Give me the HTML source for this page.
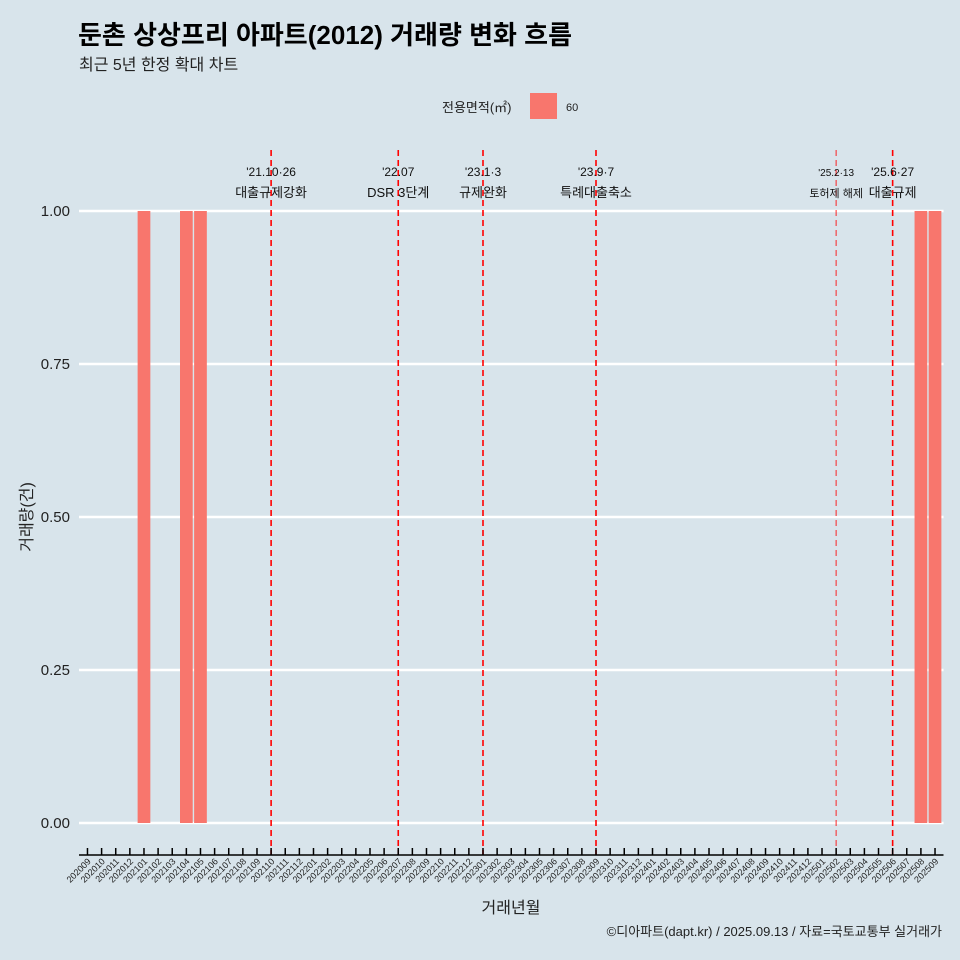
<!DOCTYPE html>
<html><head><meta charset="utf-8"><style>
body{margin:0;background:#d8e4eb;}
svg{display:block;font-family:"Liberation Sans","Noto Sans CJK KR",sans-serif;}
</style></head><body>
<svg id="c" width="960" height="960">
<rect width="960" height="960" fill="#d8e4eb"/>
<text x="78" y="44" font-size="26" font-weight="bold" fill="#000">둔촌 상상프리 아파트(2012) 거래량 변화 흐름</text>
<text x="79" y="70" font-size="16" fill="#222">최근 5년 한정 확대 차트</text>
<text x="442" y="112" font-size="13" fill="#222">전용면적(㎡)</text>
<rect x="530" y="93" width="27" height="26" fill="#f8766d"/>
<text x="566" y="111" font-size="11" fill="#222">60</text>
<text transform="translate(32,517) rotate(-90)" text-anchor="middle" font-size="16" fill="#222">거래량(건)</text>
<text x="511" y="913" text-anchor="middle" font-size="16" fill="#222">거래년월</text>
<text x="942" y="936" text-anchor="end" font-size="13" fill="#222">©디아파트(dapt.kr) / 2025.09.13 / 자료=국토교통부 실거래가</text>
<g id="grid"></g><g id="bars"></g><g id="events"></g><g id="xaxis"></g>
</svg>
<script>
const months=[];for(let y=2020,m=9;months.length<61;){months.push(''+y+String(m).padStart(2,'0'));m++;if(m>12){m=1;y++;}}
const barMonths=['202101','202104','202105','202508','202509'];
const barValues=[1,1,1,1,1];
const yTicks=[0,0.25,0.5,0.75,1];
const yTickLabels=['0.00','0.25','0.50','0.75','1.00'];
const eventMonths=['202110','202207','202301','202309','202502','202506'];
const eventDates=["'21.10·26","'22.07","'23.1·3","'23.9·7","'25.2·13","'25.6·27"];
const eventLabels=['대출규제강화','DSR 3단계','규제완화','특례대출축소','토허제 해제','대출규제'];
const NS='http://www.w3.org/2000/svg';
const x0=79,x1=943.5,step=(x1-x0)/(months.length-1+1.2);
const xs=m=>x0+(months.indexOf(m)+0.6)*step;
const ys=v=>823-v*612;
function mk(p,t,a){const e=document.createElementNS(NS,t);for(const k in a)e.setAttribute(k,a[k]);p.appendChild(e);return e;}
const G=document.getElementById('grid'),B=document.getElementById('bars'),E=document.getElementById('events'),X=document.getElementById('xaxis');
yTicks.forEach((v,i)=>{
 const l=mk(G,'line',{x1:x0,x2:x1,y1:ys(v),y2:ys(v),stroke:'#fff','stroke-width':2.5});
 
 
 const t=mk(G,'text',{x:70,y:ys(v)+5,'text-anchor':'end','font-size':15,fill:'#222'});t.textContent=yTickLabels[i];
 
 
});
barMonths.forEach((m,i)=>{
 const w=step*0.9;
 const r=mk(B,'rect',{x:xs(m)-w/2,y:ys(barValues[i]),width:w,height:ys(0)-ys(barValues[i]),fill:'#f8766d'});
 
 
});
eventMonths.forEach((m,i)=>{
 const x=xs(m);
 const l=mk(E,'line',{x1:x,x2:x,y1:150,y2:855,stroke:'#ff0000','stroke-width':i==4?1.2:1.6,'stroke-dasharray':'6,4',opacity:i==4?0.7:1});
 
 
 const fs=i==4?11:13;
 const t1=mk(E,'text',{x:x,y:176,'text-anchor':'middle','font-size':fs-1,fill:'#111'});t1.textContent=eventDates[i];
 
 
 const t2=mk(E,'text',{x:x,y:197,'text-anchor':'middle','font-size':fs,fill:'#111'});t2.textContent=eventLabels[i];
 
 
});
const ax=mk(X,'line',{x1:x0,x2:x1,y1:855,y2:855,stroke:'#000','stroke-width':1.5});


months.forEach(m=>{
 const x=xs(m);
 const tk=mk(X,'line',{x1:x,x2:x,y1:848,y2:855,stroke:'#000','stroke-width':1.5});
 
 
 const t=mk(X,'text',{transform:`translate(${x+4},${862}) rotate(-45)`,'text-anchor':'end','font-size':9,fill:'#222'});t.textContent=m;
 
 
});
</script>
</body></html>
